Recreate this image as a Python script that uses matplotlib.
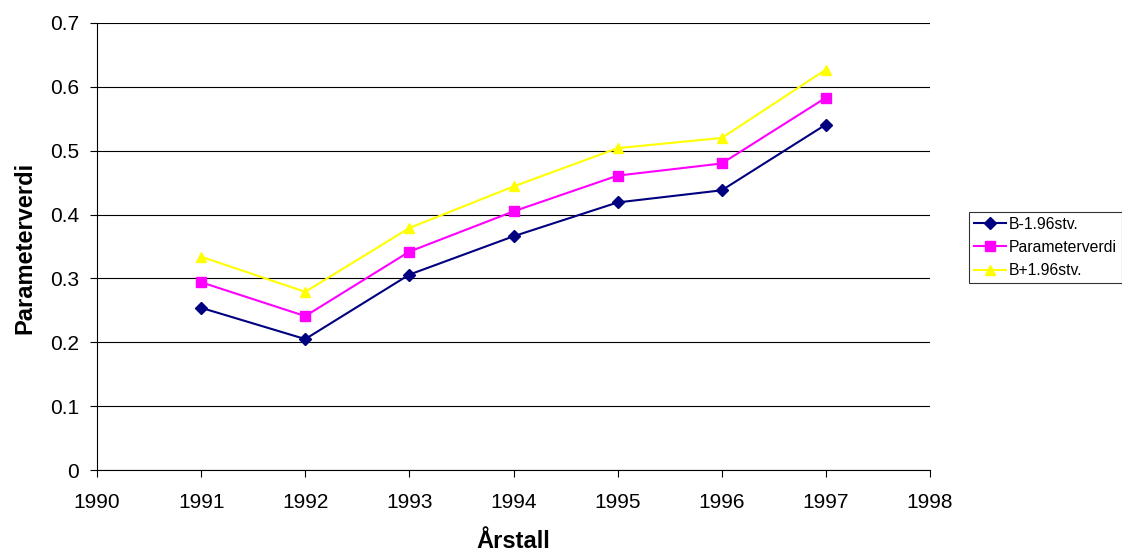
import matplotlib
matplotlib.use("Agg")
import matplotlib.pyplot as plt

years = [1991, 1992, 1993, 1994, 1995, 1996, 1997]
lower = [0.254, 0.205, 0.306, 0.366, 0.419, 0.438, 0.541]
param = [0.294, 0.241, 0.342, 0.405, 0.461, 0.480, 0.583]
upper = [0.334, 0.279, 0.379, 0.444, 0.504, 0.520, 0.627]
labels = ["B-1.96stv.", "Parameterverdi", "B+1.96stv."]
xticks = list(range(1990, 1999))
yticks = [0, 0.1, 0.2, 0.3, 0.4, 0.5, 0.6, 0.7]
ytick_labels = ['0', '0.1', '0.2', '0.3', '0.4', '0.5', '0.6', '0.7']

plt.rcParams['font.family'] = ['Liberation Sans', 'DejaVu Sans']

W, H = 1122, 552
fig = plt.figure(figsize=(W / 100, H / 100), dpi=100)
ax = fig.add_axes([97 / W, 1 - 470 / H, (930 - 97) / W, (470 - 23) / H])

ax.plot(years, lower, color='#000080', marker='D', markersize=6, lw=1.5, label=labels[0])
ax.plot(years, param, color='#ff00ff', marker='s', markersize=7, lw=1.5, label=labels[1])
ax.plot(years, upper, color='#ffff00', marker='^', markersize=7, lw=1.5, label=labels[2])

ax.set_xlim(1990, 1998)
ax.set_ylim(0, 0.7)
ax.set_xticks(xticks)
ax.set_yticks(yticks)
ax.set_yticklabels(ytick_labels)
ax.yaxis.grid(True, color='black', lw=0.8)
ax.set_axisbelow(True)
for s in ['top', 'right']:
    ax.spines[s].set_visible(False)
for s in ['left', 'bottom']:
    ax.spines[s].set_color('black')
    ax.spines[s].set_linewidth(0.8)
ax.tick_params(direction='out', length=5, width=0.8, labelsize=15, colors='black')
ax.tick_params(axis='y', pad=8)
ax.tick_params(axis='x', pad=11.5)

fig.text(513.5 / W, (H - 548) / H, 'Årstall', fontsize=17, fontweight='bold',
         ha='center', va='baseline')
fig.text(13 / W, 1 - 247.5 / H, 'Parameterverdi', fontsize=17, fontweight='bold',
         rotation=90, ha='left', va='center')

leg = ax.legend(loc='upper left', bbox_to_anchor=(969 / W, 1 - 212 / H), bbox_transform=fig.transFigure,
                fontsize=11.3, frameon=True, fancybox=False, edgecolor='black', borderpad=0.3,
                handlelength=2.05, handletextpad=0.2, labelspacing=0.52, borderaxespad=0)
leg.get_frame().set_linewidth(0.8)

fig.savefig('out.png', dpi=100)
